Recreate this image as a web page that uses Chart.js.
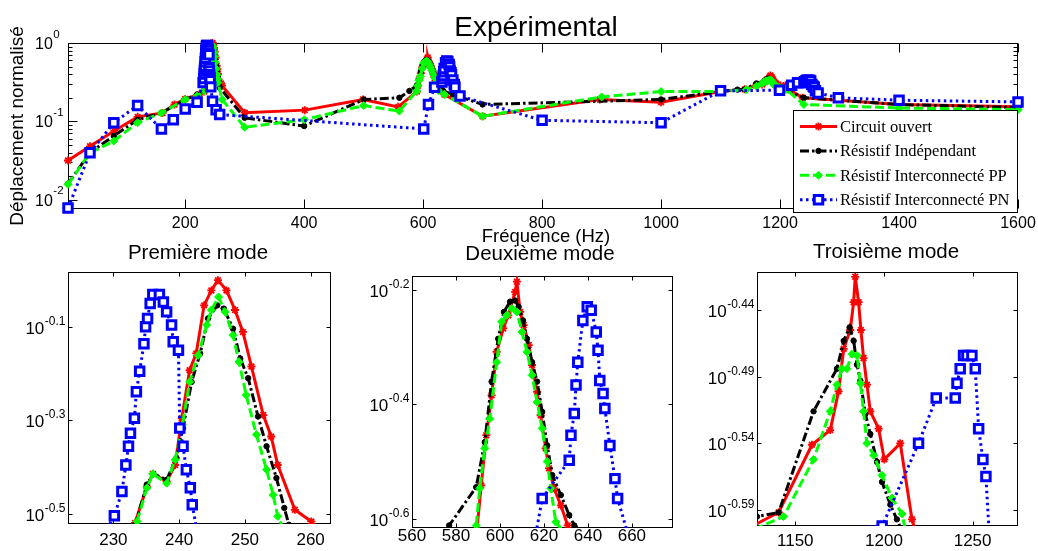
<!DOCTYPE html>
<html><head><meta charset="utf-8">
<script src="https://cdn.jsdelivr.net/npm/chart.js@4/dist/chart.umd.min.js"></script>
<style>
html,body{margin:0;padding:0;background:#fff;}
#wrap{position:relative;width:1038px;height:551px;overflow:hidden;background:#fff;}
canvas{position:absolute;left:0;top:0;}
</style></head><body>
<div id="wrap">
<canvas id="cTop" width="1038" height="551"></canvas>
<canvas id="c1" width="1038" height="551"></canvas>
<canvas id="c2" width="1038" height="551"></canvas>
<canvas id="c3" width="1038" height="551"></canvas>
</div>
<script>
// ---------------- DATA ----------------
const seriesLabels = ['Circuit ouvert', 'Résistif Indépendant', 'Résistif Interconnecté PP', 'Résistif Interconnecté PN'];

// broadband sweep points [Hz, normalised displacement]
const ouvertSweep = [[3,0.0316],[40,0.048],[81,0.076],[120,0.114],[162,0.128],[182,0.164],[200,0.193],[224,0.22],[232,0.24],[262,0.285],[300,0.129],[401,0.139],[499,0.19],[558,0.153],[589.5,0.24],[636,0.22],[700,0.116],[897,0.19],[1000,0.175],[1100,0.24],[1238,0.2],[1400,0.164],[1600,0.153]];
const indepSweep = [[3,0.016],[40,0.04],[80,0.065],[120,0.105],[160,0.128],[200,0.19],[220,0.22],[232,0.245],[258,0.27],[300,0.111],[400,0.087],[500,0.19],[560,0.2],[650,0.22],[700,0.164],[1000,0.19],[1100,0.24],[1240,0.2],[1400,0.164],[1600,0.15]];
const ppSweep = [[3,0.0157],[40,0.0397],[80,0.056],[120,0.096],[160,0.128],[200,0.19],[220,0.21],[232,0.245],[262,0.19],[300,0.084],[400,0.105],[500,0.159],[560,0.135],[636,0.22],[700,0.116],[900,0.205],[1000,0.24],[1100,0.24],[1240,0.164],[1400,0.148],[1600,0.141]];
const pnSweep = [[3,0.0078],[40,0.0397],[80,0.096],[120,0.159],[160,0.08],[180,0.105],[200,0.144],[220,0.175],[246,0.18],[252,0.141],[258,0.122],[601,0.08],[609,0.164],[662,0.21],[800,0.103],[1000,0.096],[1100,0.245],[1199,0.25],[1264,0.23],[1298,0.2],[1400,0.186],[1600,0.177]];

// fine sweeps around mode 1
const ouvertMode1 = [[233.3,0.302],[235.1,0.3614],[236.0,0.3846],[238.1,0.3707],[239.4,0.4018],[240.4,0.5058],[241.6,0.6412],[242.6,0.6966],[243.8,0.8831],[244.9,0.9506],[245.9,1.0],[247.2,0.9506],[248.5,0.863],[249.7,0.7745],[251.0,0.6531],[252.8,0.514],[254.0,0.4624],[255.0,0.4018],[257.6,0.3221],[260.1,0.3041]];
const indepMode1 = [[233.3,0.2992],[235.1,0.3648],[236.1,0.3846],[238.1,0.3733],[239.6,0.4159],[240.6,0.4819],[241.9,0.6053],[243.2,0.6966],[244.4,0.8279],[245.8,0.8831],[246.8,0.869],[248.2,0.787],[249.3,0.6792],[250.5,0.6166],[252.0,0.5105],[253.3,0.4406],[254.8,0.3767],[256.0,0.3251],[256.7,0.2992]];
const ppMode1 = [[233.6,0.3041],[235.1,0.3589],[236.0,0.3846],[238.1,0.3673],[239.4,0.4121],[240.5,0.4898],[241.6,0.6053],[242.9,0.6902],[244.2,0.8017],[244.9,0.863],[246.0,0.9204],[247.0,0.8551],[248.2,0.7621],[249.1,0.6683],[250.2,0.5675],[251.75,0.4667],[253.3,0.3926],[254.3,0.3467],[255.0,0.3119]];
const pnMode1 = [[230.15,0.3126],[231.3,0.3524],[231.9,0.4018],[232.3,0.4406],[232.6,0.4699],[233.2,0.5058],[233.5,0.5768],[234.0,0.6383],[234.65,0.7311],[234.9,0.7943],[235.2,0.8279],[235.6,0.8913],[236.0,0.9311],[237.0,0.9311],[237.6,0.8974],[238.1,0.8551],[238.85,0.8017],[239.1,0.7379],[239.9,0.7079],[240.1,0.4819],[240.6,0.4406],[241.1,0.3926],[241.7,0.3589],[242.0,0.3304],[243.0,0.2754]];

// fine sweeps around mode 2
const ouvertMode2 = [[591.5,0.2871],[593.8,0.3516],[596.2,0.413],[598.5,0.492],[601.5,0.5408],[603.8,0.5702],[606.9,0.6266],[607.7,0.6531],[609.2,0.5781],[610.8,0.5483],[613.1,0.5058],[614.6,0.4667],[616.9,0.4188],[618.5,0.3811],[620.8,0.3334],[622.3,0.3076],[624.6,0.2838],[627.7,0.2649],[630.8,0.2443]];
const indepMode2 = [[576.9,0.2443],[589.2,0.2851],[593.1,0.342],[596.2,0.4365],[599.2,0.5188],[601.8,0.5781],[604.6,0.6026],[606.9,0.6053],[608.5,0.5902],[610.5,0.5585],[612.3,0.5188],[614.6,0.4721],[616.9,0.4365],[619.2,0.3864],[621.5,0.3373],[623.8,0.2992],[627.7,0.2761],[631.5,0.2547],[633.8,0.2443]];
const ppMode2 = [[589.2,0.2443],[590.8,0.2838],[593.1,0.3334],[595.4,0.3758],[598.5,0.4721],[600.8,0.5559],[603.1,0.5702],[605.4,0.5861],[607.7,0.5781],[610.0,0.5333],[612.3,0.492],[614.6,0.4477],[616.9,0.4018],[619.2,0.3614],[621.5,0.3162],[623.1,0.2838],[625.4,0.2477]];
const pnMode2 = [[619.2,0.2723],[631.5,0.3177],[632.3,0.3516],[633.8,0.3837],[634.6,0.4305],[635.4,0.4721],[637.7,0.5585],[639.7,0.5902],[641.5,0.5821],[643.8,0.5333],[644.6,0.4955],[645.4,0.4385],[646.9,0.4159],[647.7,0.3917],[650.0,0.3373],[652.3,0.2951],[653.5,0.2723]];

// fine sweeps around mode 3
const ouvertMode3 = [[1140.6,0.2559],[1159.4,0.2877],[1169.7,0.2951],[1174.4,0.3155],[1177.3,0.3396],[1181.0,0.3508],[1182.9,0.3681],[1183.8,0.3846],[1185.7,0.3681],[1187.0,0.3508],[1188.5,0.3342],[1190.4,0.3192],[1192.3,0.3048],[1197.0,0.2958],[1200.2,0.2805],[1209.2,0.2884],[1215.8,0.2529]];
const indepMode3 = [[1128.4,0.2541],[1140.6,0.2559],[1160.3,0.3048],[1173.5,0.3281],[1177.3,0.3443],[1180.6,0.3524],[1182.9,0.3443],[1184.8,0.3304],[1186.7,0.3214],[1189.5,0.3034],[1192.3,0.2931],[1196.1,0.2793],[1198.9,0.2698],[1203.6,0.2594],[1207.3,0.2529]];
const ppMode3 = [[1143.4,0.2541],[1160.3,0.2805],[1169.7,0.3048],[1173.5,0.3192],[1176.3,0.3281],[1179.1,0.3281],[1182.0,0.3365],[1184.8,0.3357],[1186.7,0.3199],[1188.5,0.3048],[1190.4,0.2884],[1194.2,0.2825],[1198.9,0.2729],[1204.5,0.2624],[1210.2,0.2553]];
const pnMode3 = [[1219.5,0.2884],[1229.5,0.3119],[1240.2,0.3119],[1241.2,0.3199],[1243.0,0.3281],[1244.9,0.3357],[1246.8,0.3357],[1249.6,0.3357],[1251.5,0.3281],[1253.4,0.2958],[1255.8,0.2805],[1257.5,0.2723],[1259.5,0.245]];

// ticks
const topXTicks = [200,400,600,800,1000,1200,1400,1600];
const topYTickExps = [-2,-1,0];
const mode1XTicks = [230,240,250,260];
const mode1YTickExps = [-0.1,-0.3,-0.5];
const mode2XTicks = [560,580,600,620,640,660];
const mode2YTickExps = [-0.2,-0.4,-0.6];
const mode3XTicks = [1150,1200,1250];
const mode3YTickExps = [-0.44,-0.49,-0.54,-0.59];

// texts
const figTitle = 'Expérimental';
const xAxisTitle = 'Fréquence (Hz)';
const yAxisTitle = 'Déplacement normalisé';
const modeTitles = ['Première mode', 'Deuxième mode', 'Troisième mode'];

// ---------------- STYLE ----------------
const SANS = '"Liberation Sans", Arial, Helvetica, sans-serif';
const SERIF = '"Liberation Serif", "Times New Roman", serif';
const styles = [
  {borderColor:'#ff0000', borderDash:[], pointStyle:'star', pointRadius:4, pointBorderWidth:1.8, pointBackgroundColor:'#ff0000', pointBorderColor:'#ff0000'},
  {borderColor:'#000000', borderDash:[9,3,2.5,3], pointStyle:'circle', pointRadius:2.7, pointBorderWidth:1, pointBackgroundColor:'#000000', pointBorderColor:'#000000'},
  {borderColor:'#00ff00', borderDash:[9,4], pointStyle:'rectRot', pointRadius:4, pointBorderWidth:1, pointBackgroundColor:'#00ff00', pointBorderColor:'#00ff00'},
  {borderColor:'#0000ff', borderDash:[2.5,3.5], pointStyle:'rect', pointRadius:6, pointBorderWidth:3, pointBackgroundColor:'#ffffff', pointBorderColor:'#0000ff'}
];

function toXY(arr){ return arr.map(p => ({x:p[0], y:p[1]})); }
function merge(){ return [].concat(...arguments).sort((a,b)=>a[0]-b[0]); }
function ds(i, pts, clip){
  return Object.assign({label: seriesLabels[i], data: toXY(pts), borderWidth:3, tension:0, fill:false, order:3-i, clip: clip}, styles[i]);
}

function drawMarker(ctx, d, x, y){
  ctx.save();
  ctx.fillStyle = d.pointBackgroundColor; ctx.strokeStyle = d.pointBorderColor; ctx.lineWidth = d.pointBorderWidth;
  ctx.setLineDash([]);
  if (Chart.helpers && Chart.helpers.drawPoint) {
    Chart.helpers.drawPoint(ctx, {pointStyle:d.pointStyle, radius:d.pointRadius, rotation:0, borderWidth:d.pointBorderWidth}, x, y);
  } else {
    ctx.beginPath(); ctx.arc(x, y, d.pointRadius, 0, Math.PI*2); ctx.fill(); ctx.stroke();
  }
  ctx.restore();
}

function axesPlugin(cfg){
  return {
    id: 'mAxes',
    beforeDatasetsDraw(chart){
      const {ctx, chartArea:a, scales:{x, y}} = chart;
      ctx.save();
      ctx.strokeStyle = '#000'; ctx.lineWidth = 1; ctx.setLineDash([]);
      const L = Math.round(a.left)+0.5, R = Math.round(a.right)-0.5, T = Math.round(a.top)+0.5, B = Math.round(a.bottom)-0.5;
      ctx.strokeRect(L, T, R-L, B-T);
      ctx.beginPath();
      cfg.xTicks.forEach(v => {
        const px = Math.round(x.getPixelForValue(v))+0.5;
        ctx.moveTo(px, B); ctx.lineTo(px, B-cfg.tickLen);
        ctx.moveTo(px, T); ctx.lineTo(px, T+cfg.tickLen);
      });
      cfg.yExps.forEach(e => {
        const py = Math.round(y.getPixelForValue(Math.pow(10, e)))+0.5;
        ctx.moveTo(L, py); ctx.lineTo(L+cfg.tickLen, py);
        ctx.moveTo(R, py); ctx.lineTo(R-cfg.tickLen, py);
      });
      (cfg.yMinor||[]).forEach(v => {
        const py = Math.round(y.getPixelForValue(v))+0.5;
        ctx.moveTo(L, py); ctx.lineTo(L+cfg.minorLen, py);
        ctx.moveTo(R, py); ctx.lineTo(R-cfg.minorLen, py);
      });
      ctx.stroke();
      ctx.restore();
    },
    afterDraw(chart){
      const {ctx, chartArea:a, scales:{x, y}} = chart;
      ctx.save();
      ctx.fillStyle = '#000';
      ctx.font = cfg.xFont; ctx.textAlign = 'center'; ctx.textBaseline = 'alphabetic';
      cfg.xTicks.forEach(v => { ctx.fillText(String(v), x.getPixelForValue(v), a.bottom + cfg.xLabelDy); });
      cfg.yExps.forEach(e => {
        const py = y.getPixelForValue(Math.pow(10, e));
        const sup = String(e);
        ctx.font = cfg.baseFont; const w1 = ctx.measureText('10').width;
        ctx.font = cfg.supFont; const w2 = ctx.measureText(sup).width;
        const x0 = cfg.yAlign === 'left' ? a.left - cfg.yLabelGap : a.left - cfg.yLabelGap - w1 - w2;
        ctx.textAlign = 'left';
        ctx.font = cfg.baseFont; ctx.fillText('10', x0, py + cfg.baseDy);
        ctx.font = cfg.supFont; ctx.fillText(sup, x0 + w1 + 0.5, py + cfg.supDy);
      });
      ctx.restore();
    }
  };
}

const legendPlugin = {
  id: 'mLegend',
  afterDraw(chart){
    const {ctx, chartArea:a} = chart;
    const W = 225, H = 103, L = Math.round(a.right) - W, T = Math.round(a.top) + 67;
    ctx.save();
    ctx.fillStyle = '#fff'; ctx.fillRect(L, T, W, H);
    ctx.strokeStyle = '#000'; ctx.lineWidth = 1; ctx.strokeRect(L+0.5, T+0.5, W-1, H-1);
    chart.data.datasets.forEach((d, i) => {
      const cy = T + 16.5 + i*24.4;
      ctx.save();
      ctx.strokeStyle = d.borderColor; ctx.lineWidth = d.borderWidth; ctx.setLineDash(d.borderDash || []);
      ctx.beginPath(); ctx.moveTo(L+7, cy); ctx.lineTo(L+44, cy); ctx.stroke();
      ctx.restore();
      drawMarker(ctx, d, L+25.5, cy);
      ctx.fillStyle = '#000'; ctx.font = '16.5px ' + SERIF; ctx.textAlign = 'left'; ctx.textBaseline = 'middle';
      ctx.fillText(d.label, L+47, cy+1);
    });
    ctx.restore();
  }
};

const textPlugin = {
  id: 'mTexts',
  afterDraw(chart){
    const ctx = chart.ctx;
    const items = [
      {t: figTitle, f: '28px ' + SANS, x: 536, y: 36},
      {t: xAxisTitle, f: '18.5px ' + SANS, x: 546, y: 241.5},
      {t: modeTitles[0], f: '20.5px ' + SANS, x: 198, y: 259},
      {t: modeTitles[1], f: '20.5px ' + SANS, x: 540, y: 260},
      {t: modeTitles[2], f: '20.5px ' + SANS, x: 886, y: 257.5}
    ];
    ctx.save();
    ctx.fillStyle = '#000'; ctx.textAlign = 'center'; ctx.textBaseline = 'alphabetic';
    items.forEach(it => { ctx.font = it.f; ctx.fillText(it.t, it.x, it.y); });
    ctx.translate(22.5, 126); ctx.rotate(-Math.PI/2);
    ctx.font = '19px ' + SANS; ctx.fillText(yAxisTitle, 0, 0);
    ctx.restore();
  }
};

function makeChart(id, datasets, lim, box, cfg, extra){
  const pad = {left: box[0], top: box[1], right: 1038 - box[2], bottom: 551 - box[3]};
  return new Chart(document.getElementById(id), {
    type: 'line',
    data: {datasets},
    options: {
      responsive: false, animation: false, devicePixelRatio: 1,
      layout: {padding: pad, autoPadding: false},
      plugins: {legend: {display:false}, tooltip: {enabled:false}, title: {display:false}},
      events: [],
      scales: {
        x: {type:'linear', min: lim[0], max: lim[1], offset:false,
            grid:{display:false}, border:{display:false}, ticks:{display:false},
            afterFit: s => { s.height = 0; }},
        y: {type:'logarithmic', min: lim[2], max: lim[3],
            grid:{display:false}, border:{display:false}, ticks:{display:false},
            afterFit: s => { s.width = 0; }}
      }
    },
    plugins: [axesPlugin(cfg)].concat(extra || [])
  });
}

// minor log ticks for top axis
const topMinor = [];
[0.001, 0.01, 0.1].forEach(dec => { for (let k = 2; k <= 9; k++) { const v = k*dec; if (v > 0.0076 && v < 1) topMinor.push(v); } });

// --- top chart ---
makeChart('cTop', [
  ds(0, merge(ouvertSweep, ouvertMode1, ouvertMode2, ouvertMode3), false),
  ds(1, merge(indepSweep, indepMode1, indepMode2, indepMode3), false),
  ds(2, merge(ppSweep, ppMode1, ppMode2, ppMode3), false),
  ds(3, merge(pnSweep, pnMode1, pnMode2, pnMode3), false)
], [3, 1600, 0.0076, 1], [68, 43, 1018, 209], {
  xTicks: topXTicks, yExps: topYTickExps, yMinor: topMinor, tickLen: 9, minorLen: 4,
  xFont: '16px ' + SANS, xLabelDy: 19, baseFont: '16px ' + SANS, supFont: '11.5px ' + SANS,
  yAlign: 'left', yLabelGap: 33, baseDy: 6, supDy: -5.5
}, [legendPlugin, textPlugin]);

const subCfg = (xt, ye, dy) => ({
  xTicks: xt, yExps: ye, tickLen: 4, minorLen: 0,
  xFont: '17px ' + SANS, xLabelDy: dy, baseFont: '17px ' + SANS, supFont: '12px ' + SANS,
  yAlign: 'right', yLabelGap: 3, baseDy: 7, supDy: -2
});

makeChart('c1', [
  ds(0, merge(ouvertSweep, ouvertMode1)), ds(1, merge(indepSweep, indepMode1)),
  ds(2, merge(ppSweep, ppMode1)), ds(3, merge(pnSweep, pnMode1))
], [223.1, 263.1, 0.3003, 1.041], [68, 272, 331, 524], subCfg(mode1XTicks, mode1YTickExps, 20.7));

makeChart('c2', [
  ds(0, merge(ouvertSweep, ouvertMode2)), ds(1, merge(indepSweep, indepMode2)),
  ds(2, merge(ppSweep, ppMode2)), ds(3, merge(pnSweep, pnMode2))
], [560, 678.7, 0.2418, 0.6683], [412, 276, 673, 528], subCfg(mode2XTicks, mode2YTickExps, 12.5));

makeChart('c3', [
  ds(0, merge(ouvertSweep, ouvertMode3)), ds(1, merge(indepSweep, indepMode3)),
  ds(2, merge(ppSweep, ppMode3)), ds(3, merge(pnSweep, pnMode3))
], [1128.4, 1275.6, 0.2534, 0.3878], [757, 272, 1018, 526], subCfg(mode3XTicks, mode3YTickExps, 20));
</script>
</body></html>
